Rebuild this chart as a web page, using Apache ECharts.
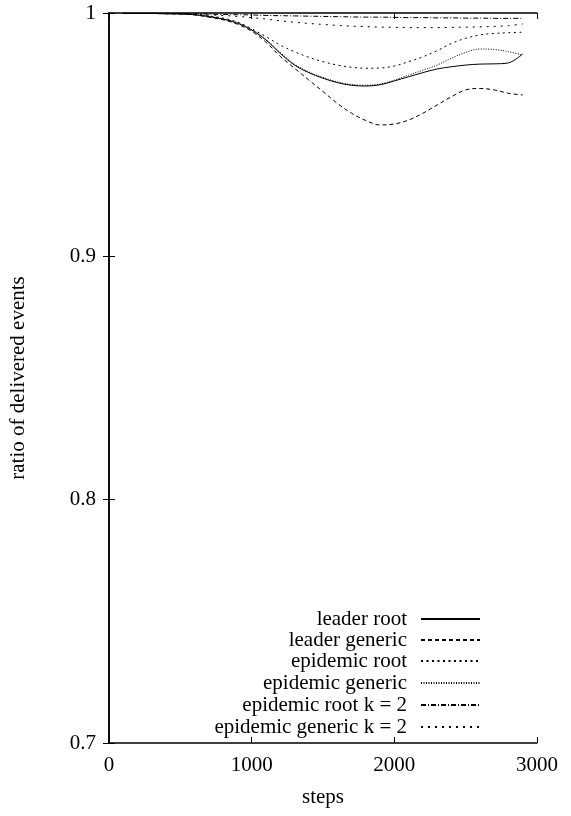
<!DOCTYPE html>
<html>
<head>
<meta charset="utf-8">
<script src="https://cdn.jsdelivr.net/npm/echarts@6/dist/echarts.min.js"></script>
<style>
html,body{margin:0;padding:0;background:#fff;}
#c{width:571px;height:816px;}
</style>
</head>
<body>
<div id="c"></div>
<script>
var steps = [100,200,300,400,500,600,700,800,900,1000,1100,1200,1300,1400,1500,1600,1700,1800,1900,2000,2100,2200,2300,2400,2500,2600,2700,2800,2900];
var leaderRoot = [0.9998,0.9998,0.9998,0.9997,0.9996,0.9993,0.9985,0.9975,0.9958,0.9930,0.9889,0.9834,0.9786,0.9755,0.9732,0.9714,0.9703,0.9700,0.9705,0.9721,0.9738,0.9755,0.9770,0.9779,0.9786,0.9790,0.9791,0.9795,0.9832];
var leaderGeneric = [0.9998,0.9998,0.9998,0.9997,0.9996,0.9992,0.9983,0.9972,0.9954,0.9925,0.9880,0.9822,0.9773,0.9725,0.9677,0.9629,0.9588,0.9558,0.9540,0.9544,0.9560,0.9588,0.9622,0.9656,0.9684,0.9690,0.9684,0.9670,0.9663];
var epidemicRoot = [0.9998,0.9998,0.9998,0.9998,0.9997,0.9994,0.9988,0.9979,0.9963,0.9935,0.9903,0.9868,0.9841,0.9818,0.9800,0.9786,0.9777,0.9773,0.9774,0.9782,0.9800,0.9820,0.9845,0.9875,0.9896,0.9910,0.9916,0.9919,0.9921];
var epidemicGeneric = [0.9998,0.9998,0.9998,0.9997,0.9996,0.9993,0.9986,0.9976,0.9960,0.9932,0.9892,0.9838,0.9790,0.9758,0.9735,0.9717,0.9706,0.9703,0.9708,0.9724,0.9745,0.9765,0.9786,0.9814,0.9838,0.9852,0.9850,0.9841,0.9827];
var epidemicRootK2 = [0.9999,0.9999,0.9999,0.9998,0.9998,0.9997,0.9995,0.9994,0.9993,0.9992,0.9990,0.9989,0.9988,0.9987,0.9986,0.9985,0.9984,0.9983,0.9983,0.9982,0.9981,0.9981,0.9980,0.9980,0.9979,0.9979,0.9978,0.9978,0.9978];
var epidemicGenericK2 = [0.9999,0.9999,0.9998,0.9997,0.9996,0.9994,0.9992,0.9990,0.9986,0.9981,0.9975,0.9968,0.9962,0.9957,0.9953,0.9949,0.9946,0.9944,0.9942,0.9941,0.9940,0.9940,0.9940,0.9941,0.9942,0.9943,0.9945,0.9948,0.9955];
var seriesNames = ['leader root','leader generic','epidemic root','epidemic generic','epidemic root k = 2','epidemic generic k = 2'];
var seriesValues = [leaderRoot, leaderGeneric, epidemicRoot, epidemicGeneric, epidemicRootK2, epidemicGenericK2];
var xTicks = [0,1000,2000,3000];
var yTicks = [0.7,0.8,0.9,1];

var dashes = ['solid',[4,3],[2,3.5],[1,1.5],[5,2,1,2],[2,5]];
var font = 'Liberation Serif';
var fs = 21;

var series = seriesNames.map(function(n,i){
  return {
    name:n, type:'line', smooth:0.35, symbol:'none', showSymbol:false,
    data: steps.map(function(s,j){return [s, seriesValues[i][j]];}),
    lineStyle:{color:'#000', width:1, type:dashes[i]},
    itemStyle:{color:'#000'},
    silent:true
  };
});

var rowCenters = [619,640,661,683,705,727];
var legends = seriesNames.map(function(n,i){
  return {
    data:[n], orient:'vertical', right:34+56, top:rowCenters[i]-11,
    align:'right', itemWidth:59, itemHeight:14, padding:0, itemGap:0,
    selectedMode:false,
    itemStyle:{opacity:0},
    textStyle:{fontFamily:font, fontSize:fs, color:'#000', padding:[0,9,0,0], lineHeight:22}
  };
});

var chart = echarts.init(document.getElementById('c'), null, {renderer:'canvas'});
chart.setOption({
  animation:false,
  backgroundColor:'#fff',
  grid:{left:109, right:34, top:13, bottom:73, containLabel:false},
  legend: legends,
  xAxis:[{
    type:'value', min:xTicks[0], max:xTicks[xTicks.length-1], interval:1000, position:'bottom',
    name:'steps', nameLocation:'middle', nameGap:44,
    nameTextStyle:{fontFamily:font, fontSize:fs, color:'#000'},
    axisLine:{show:true, lineStyle:{color:'#000', width:1.5}},
    axisTick:{show:true, inside:true, length:6, lineStyle:{color:'#000'}},
    axisLabel:{fontFamily:font, fontSize:fs, color:'#000', margin:12,
      formatter:function(v){return String(v);}},
    splitLine:{show:false}
  },{
    type:'value', min:xTicks[0], max:xTicks[xTicks.length-1], interval:1000, position:'top',
    axisLine:{show:true, lineStyle:{color:'#000', width:1.5}},
    axisTick:{show:true, inside:true, length:6, lineStyle:{color:'#000'}},
    axisLabel:{show:false}, splitLine:{show:false}
  }],
  yAxis:[{
    type:'value', min:yTicks[0], max:yTicks[yTicks.length-1], interval:0.1, position:'left',
    name:'ratio of delivered events', nameLocation:'middle', nameGap:80, nameRotate:90,
    nameTextStyle:{fontFamily:font, fontSize:fs, color:'#000'},
    axisLine:{show:true, lineStyle:{color:'#000', width:1.5}},
    axisTick:{show:true, inside:true, length:6, lineStyle:{color:'#000'}},
    axisLabel:{fontFamily:font, fontSize:fs, color:'#000', margin:13,
      formatter:function(v){return String(Math.round(v*10)/10);}},
    splitLine:{show:false}
  },{
    type:'value', min:yTicks[0], max:yTicks[yTicks.length-1], interval:0.1, position:'right',
    axisLine:{show:true, lineStyle:{color:'#000', width:1.5}},
    axisTick:{show:true, inside:true, length:6, lineStyle:{color:'#000'}},
    axisLabel:{show:false}, splitLine:{show:false}
  }],
  series: series
});
</script>
</body>
</html>
